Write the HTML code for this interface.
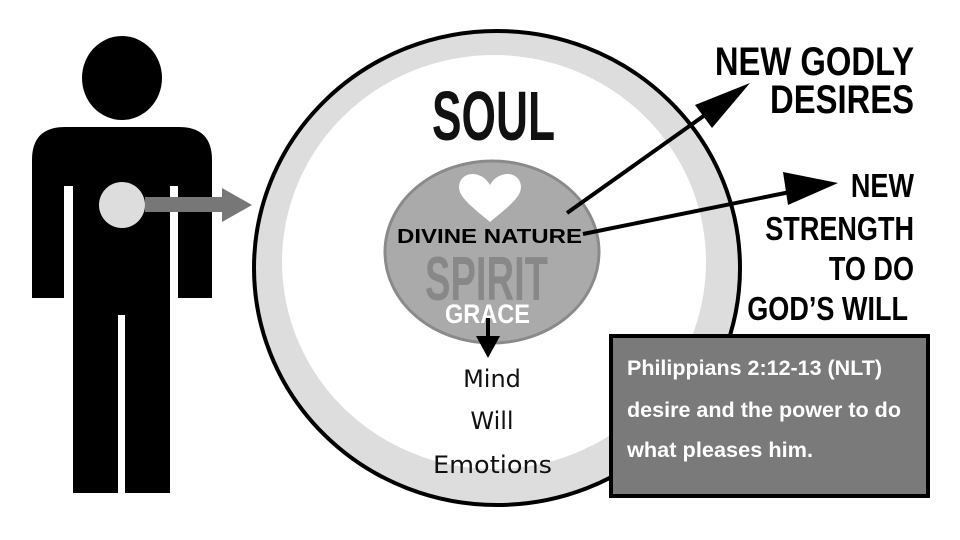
<!DOCTYPE html>
<html><head><meta charset="utf-8"><style>
html,body{margin:0;padding:0;background:#fff;}
svg{display:block}
</style></head><body>
<svg width="960" height="540" viewBox="0 0 960 540" xmlns="http://www.w3.org/2000/svg">
<rect width="960" height="540" fill="#fff"/>
<!-- figure -->
<ellipse cx="122" cy="78" rx="40" ry="42" fill="#000"/>
<path d="M32,298 L32,160 Q32,127 65,127 L179,127 Q212,127 212,160 L212,298 L178,298 L178,186 L170,186 L170,493 L125,493 L125,315 L118,315 L118,493 L73,493 L73,186 L64,186 L64,298 Z" fill="#000"/>
<circle cx="122" cy="205" r="23" fill="#ddd"/>
<rect x="145" y="197" width="78" height="15" fill="#777"/>
<polygon points="222,188 252,205 222,222" fill="#777"/>
<!-- outer circle -->
<ellipse cx="497" cy="268" rx="243" ry="237" fill="#ddd" stroke="#000" stroke-width="4"/>
<ellipse cx="494" cy="262" rx="212" ry="207" fill="#fff"/>
<!-- inner -->
<ellipse cx="492" cy="252" rx="107" ry="91" fill="#aaa" stroke="#8a8a8a" stroke-width="3"/>
<path d="M490,222 C470,205 455,195 460,182 C465,170 483,172 490,185 C497,172 515,170 520,182 C525,195 510,205 490,222 Z" fill="#fff"/>
<text x="432" y="140" textLength="123" lengthAdjust="spacingAndGlyphs" font-family="Liberation Sans Narrow, Liberation Sans, sans-serif" font-weight="bold" font-size="70" fill="#111">SOUL</text>
<text x="425" y="300" textLength="123" lengthAdjust="spacingAndGlyphs" font-family="Liberation Sans Narrow, Liberation Sans, sans-serif" font-weight="bold" font-size="62" fill="#888">SPIRIT</text>
<text x="445" y="323" textLength="85" lengthAdjust="spacingAndGlyphs" font-family="Liberation Sans Narrow, Liberation Sans, sans-serif" font-weight="bold" font-size="27" fill="#fff">GRACE</text>
<text x="397" y="243" textLength="185" lengthAdjust="spacingAndGlyphs" font-family="Liberation Sans, sans-serif" font-weight="bold" font-size="20" fill="#000">DIVINE NATURE</text>
<line x1="488" y1="318" x2="488" y2="340" stroke="#000" stroke-width="4"/>
<polygon points="476,336 500,336 488,358" fill="#000"/>
<g font-family="DejaVu Sans, sans-serif" font-size="24" fill="#111" text-anchor="middle">
<text x="492" y="387">Mind</text>
<text x="492" y="429">Will</text>
<text x="433" y="473" text-anchor="start" textLength="119" lengthAdjust="spacingAndGlyphs">Emotions</text>
</g>
<!-- arrows -->
<line x1="567" y1="213" x2="712" y2="110" stroke="#000" stroke-width="4"/>
<polygon points="750,83 712,128 695,105" fill="#000"/>
<line x1="583" y1="234" x2="800" y2="190" stroke="#000" stroke-width="4"/>
<polygon points="838,183 783,172 788,205" fill="#000"/>
<!-- right text -->
<g font-family="Liberation Sans Narrow, Liberation Sans, sans-serif" font-weight="bold" fill="#000" text-anchor="end">
<g transform="translate(914,0) scale(0.82,1)">
<text x="0" y="75" font-size="40">NEW GODLY</text>
<text x="0" y="113" font-size="40">DESIRES</text>
<text x="0" y="197" font-size="33">NEW</text>
<text x="0" y="240" font-size="33">STRENGTH</text>
<text x="0" y="280" font-size="33">TO DO</text>
</g>
<g transform="translate(908,0) scale(0.82,1)">
<text x="0" y="320" font-size="33">GOD’S WILL</text>
</g>
</g>
<!-- box -->
<rect x="611" y="336" width="317" height="160" fill="#7a7a7a" stroke="#000" stroke-width="4"/>
<g font-family="Liberation Sans Narrow, Liberation Sans, sans-serif" font-weight="bold" font-size="21" fill="#fff">
<text x="627" y="375" textLength="255" lengthAdjust="spacingAndGlyphs">Philippians 2:12-13 (NLT)</text>
<text x="627" y="417" textLength="274" lengthAdjust="spacingAndGlyphs">desire and the power to do</text>
<text x="627" y="457" textLength="186" lengthAdjust="spacingAndGlyphs">what pleases him.</text>
</g>
</svg>
</body></html>
